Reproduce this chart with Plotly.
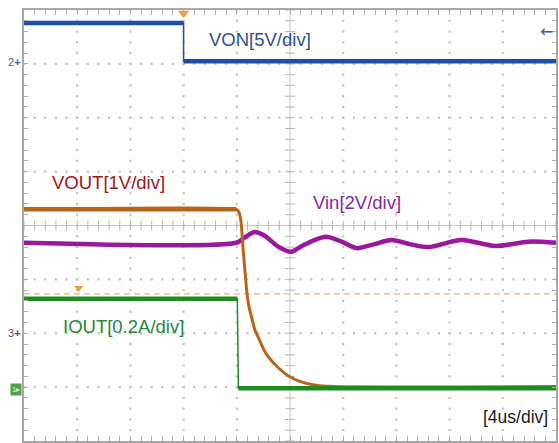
import plotly.graph_objects as go

# ---- data (units: divisions; x: 0..10 div at 4us/div, y: -4..4 div) ----
von_t = [0.0, 3.0, 3.0, 10.0]
von_v = [3.76, 3.76, 3.05, 3.05]

vout_t = [0.0, 3.99, 4.04, 4.08, 4.12, 4.16, 4.19, 4.23, 4.29, 4.34, 4.42, 4.51,
          4.61, 4.79, 4.98, 5.17, 5.45, 5.82, 10.0]
vout_v = [0.30, 0.30, 0.25, 0.06, -0.45, -0.92, -1.25, -1.51, -1.75, -1.94, -2.11,
          -2.31, -2.46, -2.65, -2.80, -2.89, -2.96, -2.99, -2.99]

vin_t = [0.0, 3.99, 4.14, 4.33, 4.51, 4.79, 5.02, 5.26, 5.67, 5.97, 6.25, 6.57,
         6.91, 7.27, 7.60, 8.22, 8.86, 9.48, 10.0]
vin_v = [-0.32, -0.32, -0.23, -0.12, -0.18, -0.40, -0.49, -0.36, -0.21, -0.30, -0.42,
         -0.35, -0.27, -0.35, -0.40, -0.27, -0.38, -0.30, -0.32]

iout_t = [0.0, 4.01, 4.03, 10.0]
iout_v = [-1.36, -1.36, -3.02, -3.02]

trig_level = -1.27
trig_time = 3.0
ch_markers = {"2": 3.04, "3": -2.0}
gnd1 = -3.04

labels = ["VON[5V/div]", "VOUT[1V/div]", "Vin[2V/div]", "IOUT[0.2A/div]", "[4us/div]"]
label_x = [4.44, 1.58, 6.25, 1.87, 9.24]
label_y = [3.46, 0.79, 0.42, -1.88, -3.55]
label_col = ["#2f5088", "#9a1a1a", "#86289a", "#268744", "#1a1a1a"]
label_size = [18.5, 18.5, 18.5, 18.5, 17.5]

XDIV, YDIV = 10, 4
fig = go.Figure()

# grid dots
gx, gy = [], []
for i in range(1, XDIV):
    if i == XDIV // 2:
        continue
    for k in range(0, YDIV * 2 * 5 + 1):
        gx.append(i); gy.append(-YDIV + k * 0.2)
for j in range(-YDIV + 1, YDIV):
    if j == 0:
        continue
    for k in range(0, XDIV * 5 + 1):
        gx.append(k * 0.2); gy.append(j)
fig.add_trace(go.Scatter(x=gx, y=gy, mode="markers",
                         marker=dict(symbol="square", size=2.2, color="#c4c4c4"),
                         hoverinfo="skip"))

# center crosshair with ticks
fig.add_trace(go.Scatter(x=[0, XDIV], y=[0, 0], mode="lines",
                         line=dict(color="#c8c8c8", width=1), hoverinfo="skip"))
fig.add_trace(go.Scatter(x=[XDIV / 2, XDIV / 2], y=[-YDIV, YDIV], mode="lines",
                         line=dict(color="#c8c8c8", width=1), hoverinfo="skip"))
fig.add_trace(go.Scatter(x=[k * 0.2 for k in range(XDIV * 5 + 1)], y=[0] * (XDIV * 5 + 1),
                         mode="markers", hoverinfo="skip",
                         marker=dict(symbol="line-ns", size=7, line=dict(width=1, color="#b8b8b8"))))
fig.add_trace(go.Scatter(x=[XDIV / 2] * (YDIV * 10 + 1), y=[-YDIV + k * 0.2 for k in range(YDIV * 10 + 1)],
                         mode="markers", hoverinfo="skip",
                         marker=dict(symbol="line-ew", size=7, line=dict(width=1, color="#b8b8b8"))))

# trigger level dashed
fig.add_trace(go.Scatter(x=[0, XDIV], y=[trig_level, trig_level], mode="lines",
                         line=dict(color="#d9a85a", width=1, dash="6px,4px"), hoverinfo="skip"))


def step_trace(t, v, color, thin, thick):
    fig.add_trace(go.Scatter(x=t, y=v, mode="lines", line=dict(color=color, width=thin),
                             hoverinfo="skip"))
    fig.add_trace(go.Scatter(x=[t[0], t[1], None, t[2], t[3]],
                             y=[v[0], v[1], None, v[2], v[3]], mode="lines",
                             line=dict(color=color, width=thick), hoverinfo="skip"))


# Vin
fig.add_trace(go.Scatter(x=vin_t, y=vin_v, mode="lines",
                         line=dict(color="#9b179b", width=4.5, shape="spline", smoothing=0.8),
                         hoverinfo="skip"))
# VOUT
fig.add_trace(go.Scatter(x=vout_t, y=vout_v, mode="lines",
                         line=dict(color="#b8651c", width=3, shape="spline", smoothing=0.5),
                         hoverinfo="skip"))
fig.add_trace(go.Scatter(x=vout_t[:2], y=vout_v[:2], mode="lines",
                         line=dict(color="#b8651c", width=4.5), hoverinfo="skip"))
# IOUT
step_trace(iout_t, iout_v, "#1f8c1f", 1.5, 4.5)
# VON
step_trace(von_t, von_v, "#1b4fab", 1.5, 4.5)

# trigger markers
fig.add_trace(go.Scatter(x=[trig_time], y=[YDIV - 0.06], mode="markers", hoverinfo="skip",
                         marker=dict(symbol="triangle-down", size=10, color="#f0a040")))
fig.add_trace(go.Scatter(x=[1.03], y=[-1.16], mode="markers", hoverinfo="skip",
                         marker=dict(symbol="triangle-down", size=8, color="#f0a040")))

# labels
for txt, x, y, c, s in zip(labels, label_x, label_y, label_col, label_size):
    fig.add_annotation(x=x, y=y, xref="x", yref="y", text=txt, showarrow=False,
                       font=dict(family="Liberation Sans, Arial", size=s, color=c))

# channel ground markers on the left
ch_col = {"2": "#4a5a78", "3": "#7a3a7a"}
for name, yv in ch_markers.items():
    fig.add_annotation(x=-0.001, y=yv, xref="paper", yref="y", text=name + "<b>+</b>",
                       showarrow=False, xanchor="right",
                       font=dict(family="Liberation Sans, Arial", size=11, color=ch_col[name]))
fig.add_annotation(x=-0.003, y=gnd1, xref="paper", yref="y", text="1▸", showarrow=False,
                   xanchor="right", bgcolor="#4f9f4f", borderpad=1,
                   font=dict(family="Liberation Sans, Arial", size=8, color="#d8f0d8"))
fig.add_annotation(x=0.999, y=3.6, xref="paper", yref="y", text="←", showarrow=False,
                   xanchor="right", font=dict(family="DejaVu Sans", size=16, color="#3a5a9a"))

axis_common = dict(showgrid=False, zeroline=False, showticklabels=False,
                   showline=True, linecolor="#a9a9a9", linewidth=1.5, mirror="ticks",
                   ticks="inside", tickcolor="#b0b0b0", tickwidth=1, tick0=0, dtick=0.2)
fig.update_xaxes(range=[0, XDIV], ticklen=5, **axis_common)
fig.update_yaxes(range=[-YDIV, YDIV], ticklen=4, **axis_common)

fig.update_layout(width=559, height=443, margin=dict(l=24, r=1, t=10, b=2),
                  paper_bgcolor="white", plot_bgcolor="white", showlegend=False)

fig.write_html("out.html", config={"displayModeBar": False},
               post_script="document.body.style.margin='0';document.body.style.padding='0';"
                           "document.body.style.overflow='hidden';")
